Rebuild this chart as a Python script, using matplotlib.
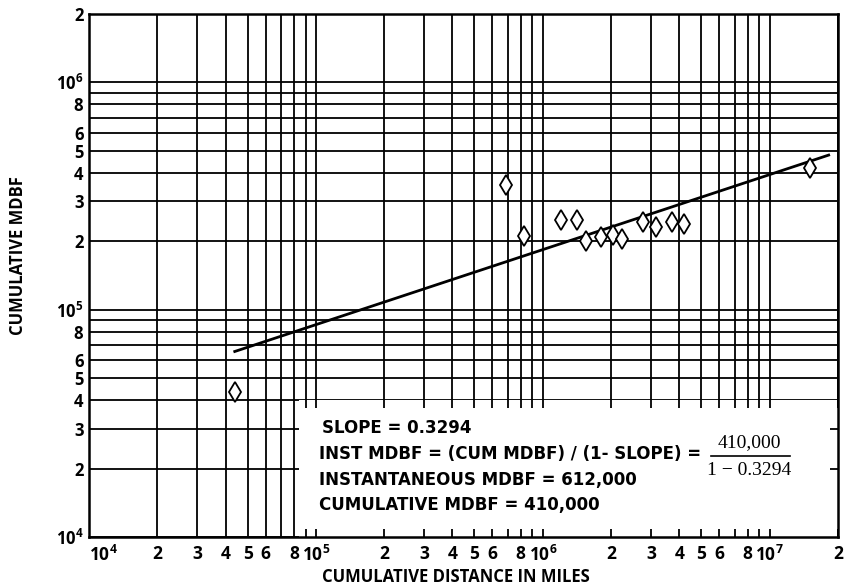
import matplotlib
matplotlib.use("Agg")
import matplotlib.pyplot as plt
from matplotlib.patches import Rectangle

plt.rcParams['font.family'] = ['Open Sans', 'DejaVu Sans']
plt.rcParams['mathtext.fontset'] = 'custom'
plt.rcParams['mathtext.bf'] = 'Open Sans:bold'
plt.rcParams['mathtext.rm'] = 'Open Sans:bold'

# data
dist = [43900, 688000, 828000, 1.20e6, 1.42e6, 1.55e6, 1.81e6, 2.04e6,
        2.23e6, 2.77e6, 3.15e6, 3.71e6, 4.18e6, 1.50e7]
mdbf = [43600, 355000, 212000, 247000, 247000, 200000, 208000, 214000,
        205000, 242000, 232000, 242000, 239000, 419000]
fit_x = [43900, 1.82e7]
fit_y = [65500, 479000]

x_ticks = [1e4, 2e4, 3e4, 4e4, 5e4, 6e4, 8e4,
           1e5, 2e5, 3e5, 4e5, 5e5, 6e5, 8e5,
           1e6, 2e6, 3e6, 4e6, 5e6, 6e6, 8e6, 1e7, 2e7]
x_labels = [r'$\mathbf{10^4}$', '2', '3', '4', '5', '6', '8',
            r'$\mathbf{10^5}$', '2', '3', '4', '5', '6', '8',
            r'$\mathbf{10^6}$', '2', '3', '4', '5', '6', '8', r'$\mathbf{10^7}$', '2']
y_ticks = [1e4, 2e4, 3e4, 4e4, 5e4, 6e4, 8e4,
           1e5, 2e5, 3e5, 4e5, 5e5, 6e5, 8e5, 1e6, 2e6]
y_labels = [r'$\mathbf{10^4}$', '2', '3', '4', '5', '6', '8',
            r'$\mathbf{10^5}$', '2', '3', '4', '5', '6', '8', r'$\mathbf{10^6}$', '2']

box_lines = ['SLOPE = 0.3294',
             'INST MDBF = (CUM MDBF) / (1- SLOPE) =',
             'INSTANTANEOUS MDBF = 612,000',
             'CUMULATIVE MDBF = 410,000']
frac_num = '410,000'
frac_den = '1 \u2212 0.3294'

fig = plt.figure(figsize=(8.46, 5.88), dpi=100)
ax = fig.add_axes([0.1052, 0.0867, 0.8853, 0.8895])
ax.set_xscale('log')
ax.set_yscale('log')
ax.set_xlim(1e4, 2e7)
ax.set_ylim(1e4, 2e6)

# grid drawn by hand so the stubs can sit above the white box
gx = [m * d for d in (1e4, 1e5, 1e6, 1e7) for m in range(1, 10)] + [2e7]
gy = [m * d for d in (1e4, 1e5, 1e6) for m in range(1, 10)] + [2e6]
for v in gx:
    ax.axvline(v, color='black', lw=1.3, zorder=0.5)
for v in gy:
    ax.axhline(v, color='black', lw=1.3, zorder=0.5)

# white text box in the lower right
ax.add_patch(Rectangle((0.2804, 1e4), 0.72, 3e4, transform=ax.get_yaxis_transform(),
                       facecolor='white', edgecolor='none', zorder=1))
inside = [v for v in gx if v > 8.5e4]
ax.vlines(inside, 4e4 * 10 ** -0.035, 4e4, color='black', lw=1.3, zorder=1.5)
ax.vlines(inside, 1e4, 1e4 * 10 ** 0.035, color='black', lw=1.3, zorder=1.5)
ax.hlines([2e4, 3e4], 2e7 * 10 ** -0.035, 2e7, color='black', lw=1.3, zorder=1.5)

ax.plot(fit_x, fit_y, color='black', lw=2, zorder=3)
ax.plot(dist, mdbf, ls='none', marker='d', ms=10, mfc='white', mec='black', mew=1.3, zorder=4)

ax.xaxis.set_minor_locator(matplotlib.ticker.NullLocator())
ax.yaxis.set_minor_locator(matplotlib.ticker.NullLocator())
ax.set_xticks(x_ticks)
ax.set_xticklabels(x_labels, fontsize=12.5, fontweight='bold')
ax.set_yticks(y_ticks)
ax.set_yticklabels(y_labels, fontsize=12, fontweight='bold')
ax.tick_params(length=0)
ax.tick_params(axis='x', pad=6)
ax.tick_params(axis='y', pad=4)
ax.get_xticklabels()[0].set_horizontalalignment('left')

for s in ax.spines.values():
    s.set_linewidth(1.8)

ax.set_xlabel('CUMULATIVE DISTANCE IN MILES', fontsize=12, fontweight='bold')
ax.xaxis.set_label_coords(0.49, -0.059)
ax.set_ylabel('CUMULATIVE MDBF', fontsize=12, fontweight='bold')
ax.yaxis.set_label_coords(-0.083, 0.539)

ys = [428, 454, 480, 505]
xs = [322, 319, 319, 319]
for t, px, py in zip(box_lines, xs, ys):
    ax.text((px - 89) / 749, (537 - py) / 523, t, transform=ax.transAxes, family='DejaVu Sans',
            fontsize=12, fontweight='bold', va='center', ha='left', zorder=5)

cx = (749 - 89) / 749
ax.text(cx, (537 - 443) / 523, frac_num, transform=ax.transAxes, family='Liberation Serif',
        fontsize=14, ha='center', va='center', zorder=5)
ax.text(cx, (537 - 470) / 523, frac_den, transform=ax.transAxes, family='Liberation Serif',
        fontsize=14, ha='center', va='center', zorder=5)
ax.plot([(711 - 89) / 749, (790 - 89) / 749], [(537 - 456) / 523] * 2, transform=ax.transAxes,
        color='black', lw=1.2, zorder=5)

fig.savefig('out.png', dpi=100)
